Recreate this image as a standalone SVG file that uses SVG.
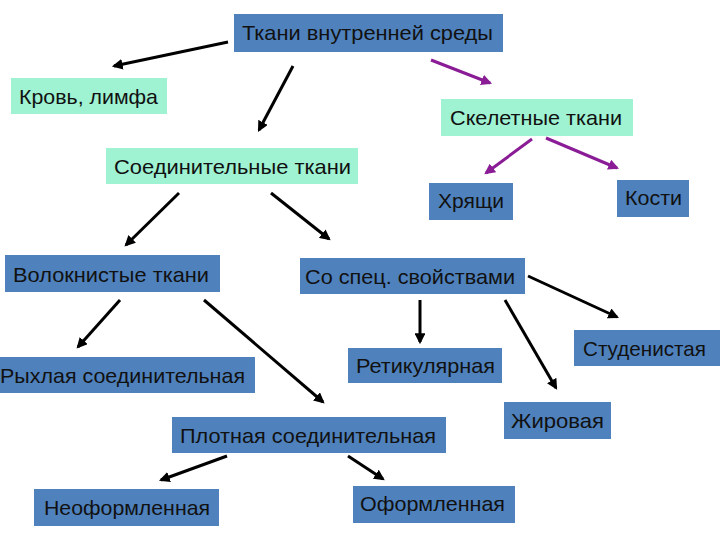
<svg xmlns="http://www.w3.org/2000/svg" width="720" height="540" viewBox="0 0 720 540">
<style>
.b{fill:#4F81BD}
.g{fill:#9FF3D3}
text{font-family:"Liberation Sans",Arial,sans-serif;font-size:21px;fill:#111}
.k{stroke:#000;stroke-width:3;fill:none}
.p{stroke:#8A1C96;stroke-width:3;fill:none}
</style>
<defs>
<marker id="ak" viewBox="0 0 10 10" refX="8" refY="5" markerWidth="3.6" markerHeight="3.6" orient="auto" markerUnits="strokeWidth"><path d="M0,0 L10,5 L0,10 z" fill="#000"/></marker>
<marker id="ap" viewBox="0 0 10 10" refX="8" refY="5" markerWidth="3.6" markerHeight="3.6" orient="auto" markerUnits="strokeWidth"><path d="M0,0 L10,5 L0,10 z" fill="#8A1C96"/></marker>
</defs>
<rect width="720" height="540" fill="#fff"/>
<g id="n1"><rect class="b" x="234" y="14" width="269" height="38"/><text x="242" y="40" textLength="251" lengthAdjust="spacingAndGlyphs">Ткани внутренней среды</text></g>
<g id="n2"><rect class="g" x="11" y="78" width="156" height="36"/><text x="19" y="104" textLength="139" lengthAdjust="spacingAndGlyphs">Кровь, лимфа</text></g>
<g id="n3"><rect class="g" x="441" y="99" width="192" height="37"/><text x="450" y="125" textLength="172" lengthAdjust="spacingAndGlyphs">Скелетные ткани</text></g>
<g id="n4"><rect class="g" x="106" y="148" width="252" height="36"/><text x="114" y="174" textLength="237" lengthAdjust="spacingAndGlyphs">Соединительные ткани</text></g>
<g id="n5"><rect class="b" x="429" y="183" width="84" height="37"/><text x="438" y="208" textLength="66" lengthAdjust="spacingAndGlyphs">Хрящи</text></g>
<g id="n6"><rect class="b" x="617" y="180" width="72" height="37"/><text x="625" y="205" textLength="57" lengthAdjust="spacingAndGlyphs">Кости</text></g>
<g id="n7"><rect class="b" x="5" y="255" width="215" height="37"/><text x="13" y="282" textLength="196" lengthAdjust="spacingAndGlyphs">Волокнистые ткани</text></g>
<g id="n8"><rect class="b" x="300" y="258" width="225" height="36"/><text x="305" y="284" textLength="210" lengthAdjust="spacingAndGlyphs">Со спец. свойствами</text></g>
<g id="n9"><rect class="b" x="574" y="330" width="146" height="36"/><text x="583" y="356" textLength="123" lengthAdjust="spacingAndGlyphs">Студенистая</text></g>
<g id="n10"><rect class="b" x="0" y="357" width="255" height="36"/><text x="0" y="383" textLength="245" lengthAdjust="spacingAndGlyphs">Рыхлая соединительная</text></g>
<g id="n11"><rect class="b" x="348" y="348" width="154" height="35"/><text x="356" y="373" textLength="139" lengthAdjust="spacingAndGlyphs">Ретикулярная</text></g>
<g id="n12"><rect class="b" x="504" y="402" width="107" height="37"/><text x="511" y="428" textLength="93" lengthAdjust="spacingAndGlyphs">Жировая</text></g>
<g id="n13"><rect class="b" x="172" y="417" width="274" height="36"/><text x="180" y="443" textLength="256" lengthAdjust="spacingAndGlyphs">Плотная соединительная</text></g>
<g id="n14"><rect class="b" x="34" y="489" width="185" height="37"/><text x="44" y="515" textLength="166" lengthAdjust="spacingAndGlyphs">Неоформленная</text></g>
<g id="n15"><rect class="b" x="353" y="486" width="162" height="37"/><text x="360" y="511" textLength="145" lengthAdjust="spacingAndGlyphs">Оформленная</text></g>
<g id="connectors">
<line class="k" x1="228" y1="42" x2="114" y2="66" marker-end="url(#ak)"/>
<line class="k" x1="293" y1="66" x2="259" y2="130" marker-end="url(#ak)"/>
<line class="p" x1="431" y1="60" x2="490" y2="83" marker-end="url(#ap)"/>
<line class="p" x1="532" y1="139" x2="486" y2="173" marker-end="url(#ap)"/>
<line class="p" x1="546" y1="138" x2="617" y2="168" marker-end="url(#ap)"/>
<line class="k" x1="179" y1="193" x2="126" y2="245" marker-end="url(#ak)"/>
<line class="k" x1="271" y1="193" x2="329" y2="239" marker-end="url(#ak)"/>
<line class="k" x1="120" y1="300" x2="78" y2="347" marker-end="url(#ak)"/>
<line class="k" x1="204" y1="300" x2="323" y2="402" marker-end="url(#ak)"/>
<line class="k" x1="420" y1="300" x2="420" y2="342" marker-end="url(#ak)"/>
<line class="k" x1="505" y1="300" x2="556" y2="388" marker-end="url(#ak)"/>
<line class="k" x1="528" y1="276" x2="617" y2="317" marker-end="url(#ak)"/>
<line class="k" x1="227" y1="456" x2="161" y2="480" marker-end="url(#ak)"/>
<line class="k" x1="348" y1="456" x2="383" y2="479" marker-end="url(#ak)"/>
</g>
</svg>
